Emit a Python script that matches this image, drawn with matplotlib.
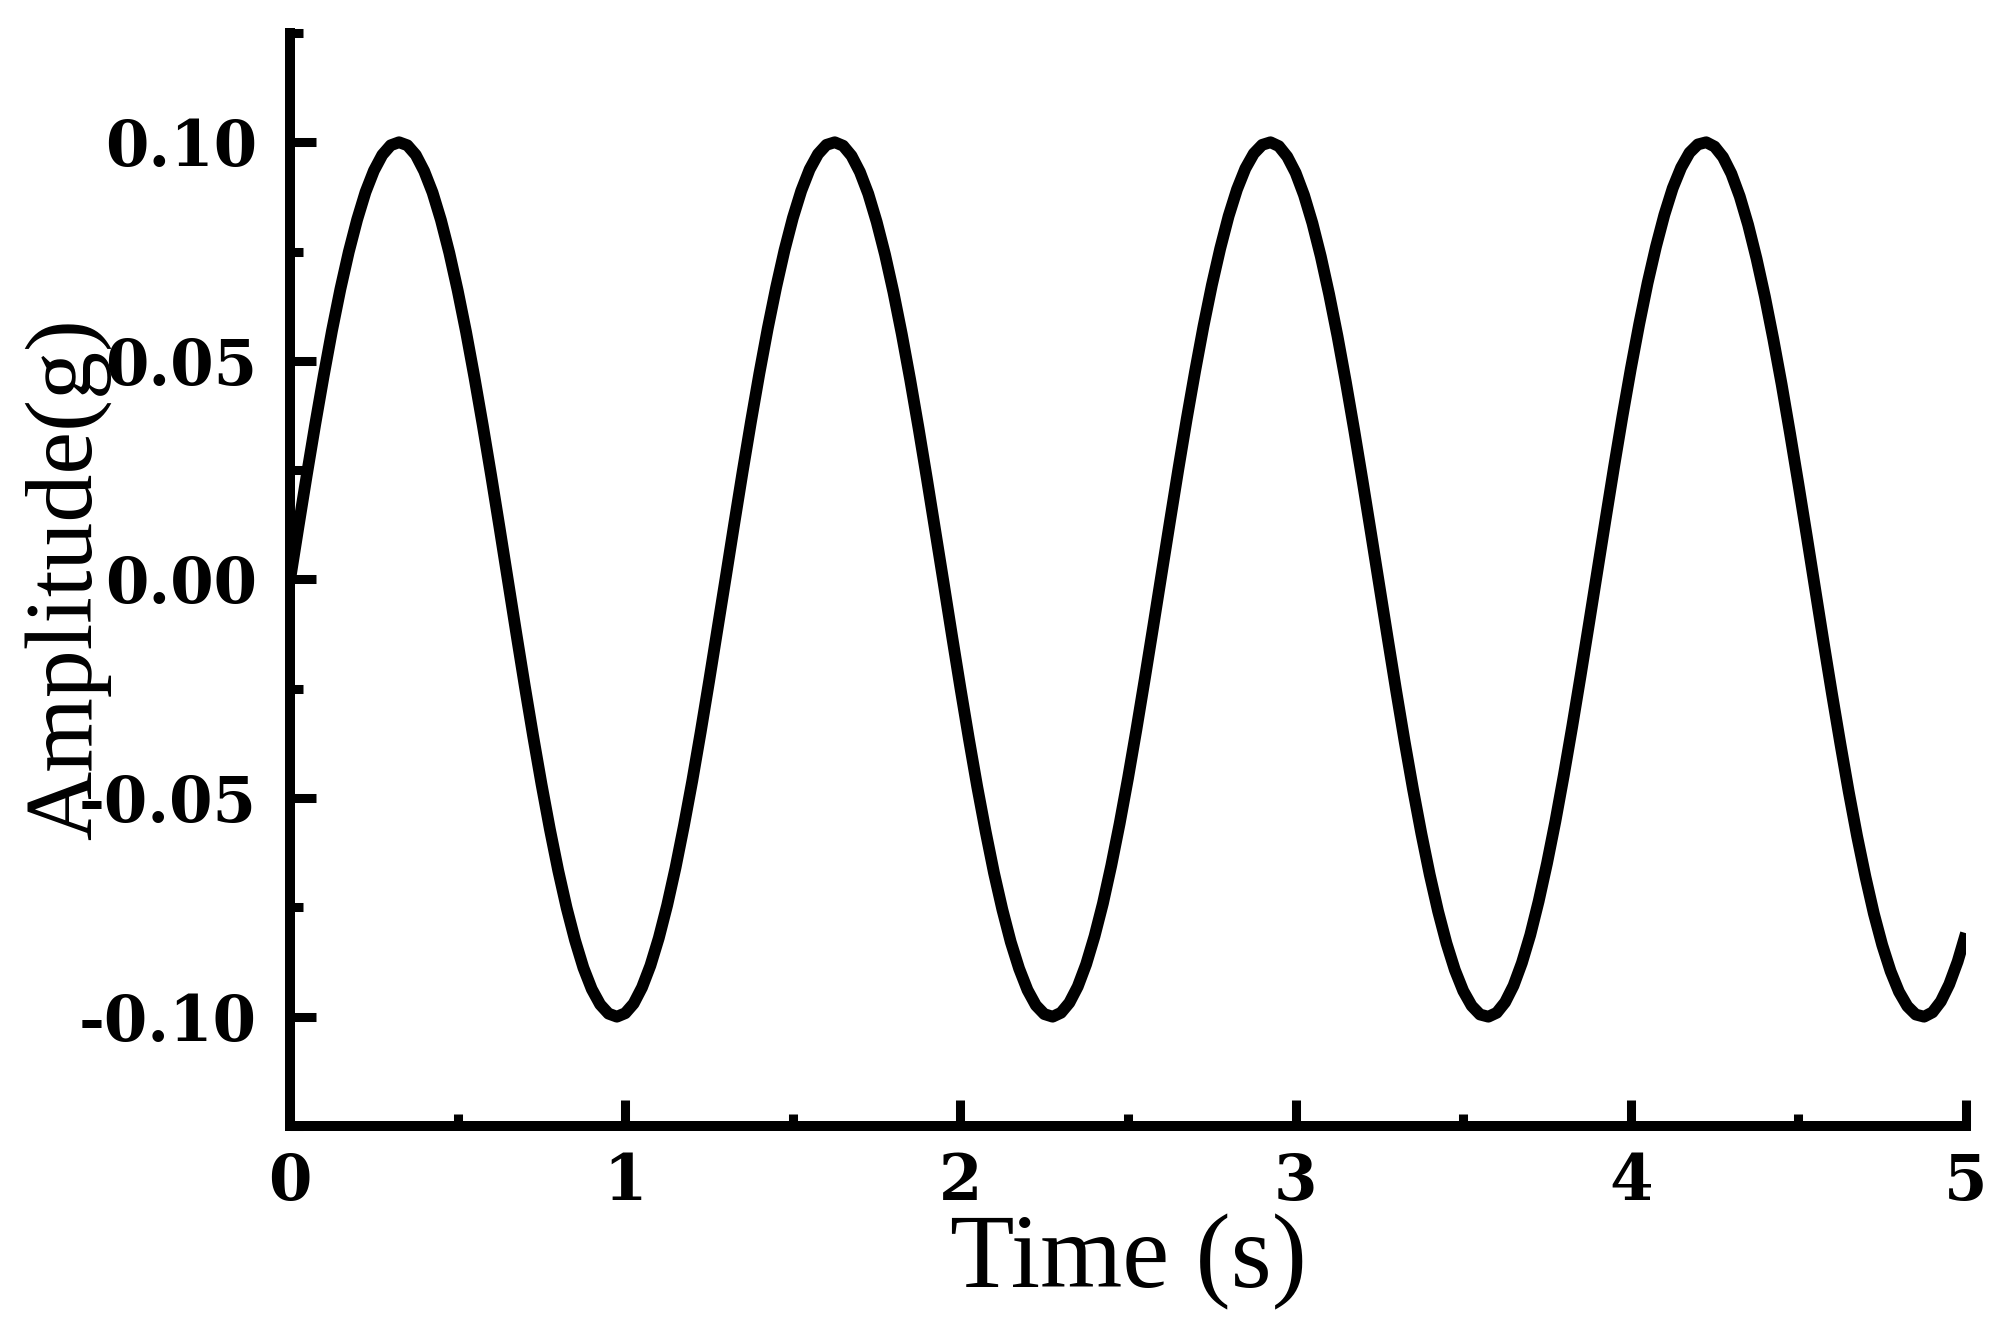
import matplotlib
matplotlib.use('Agg')
import matplotlib.pyplot as plt
from matplotlib.ticker import MultipleLocator

# sampled time axis (s), one reading every 0.025 s
time_s = [
    0.000, 0.025, 0.050, 0.075, 0.100, 0.125, 0.150, 0.175, 0.200, 0.225,
    0.250, 0.275, 0.300, 0.325, 0.350, 0.375, 0.400, 0.425, 0.450, 0.475,
    0.500, 0.525, 0.550, 0.575, 0.600, 0.625, 0.650, 0.675, 0.700, 0.725,
    0.750, 0.775, 0.800, 0.825, 0.850, 0.875, 0.900, 0.925, 0.950, 0.975,
    1.000, 1.025, 1.050, 1.075, 1.100, 1.125, 1.150, 1.175, 1.200, 1.225,
    1.250, 1.275, 1.300, 1.325, 1.350, 1.375, 1.400, 1.425, 1.450, 1.475,
    1.500, 1.525, 1.550, 1.575, 1.600, 1.625, 1.650, 1.675, 1.700, 1.725,
    1.750, 1.775, 1.800, 1.825, 1.850, 1.875, 1.900, 1.925, 1.950, 1.975,
    2.000, 2.025, 2.050, 2.075, 2.100, 2.125, 2.150, 2.175, 2.200, 2.225,
    2.250, 2.275, 2.300, 2.325, 2.350, 2.375, 2.400, 2.425, 2.450, 2.475,
    2.500, 2.525, 2.550, 2.575, 2.600, 2.625, 2.650, 2.675, 2.700, 2.725,
    2.750, 2.775, 2.800, 2.825, 2.850, 2.875, 2.900, 2.925, 2.950, 2.975,
    3.000, 3.025, 3.050, 3.075, 3.100, 3.125, 3.150, 3.175, 3.200, 3.225,
    3.250, 3.275, 3.300, 3.325, 3.350, 3.375, 3.400, 3.425, 3.450, 3.475,
    3.500, 3.525, 3.550, 3.575, 3.600, 3.625, 3.650, 3.675, 3.700, 3.725,
    3.750, 3.775, 3.800, 3.825, 3.850, 3.875, 3.900, 3.925, 3.950, 3.975,
    4.000, 4.025, 4.050, 4.075, 4.100, 4.125, 4.150, 4.175, 4.200, 4.225,
    4.250, 4.275, 4.300, 4.325, 4.350, 4.375, 4.400, 4.425, 4.450, 4.475,
    4.500, 4.525, 4.550, 4.575, 4.600, 4.625, 4.650, 4.675, 4.700, 4.725,
    4.750, 4.775, 4.800, 4.825, 4.850, 4.875, 4.900, 4.925, 4.950, 4.975,
    5.000,
]

# amplitude (g) at the same times
amplitude_g = [
    0.0000, 0.0121, 0.0240, 0.0355, 0.0465, 0.0569, 0.0664, 0.0749, 0.0823, 0.0886,
    0.0935, 0.0971, 0.0993, 0.1000, 0.0993, 0.0971, 0.0934, 0.0885, 0.0822, 0.0747,
    0.0661, 0.0566, 0.0462, 0.0352, 0.0237, 0.0118, -0.0003, -0.0124, -0.0243, -0.0358,
    -0.0468, -0.0571, -0.0666, -0.0751, -0.0825, -0.0888, -0.0937, -0.0972, -0.0993, -0.1000,
    -0.0992, -0.0970, -0.0933, -0.0883, -0.0820, -0.0745, -0.0659, -0.0563, -0.0460, -0.0349,
    -0.0233, -0.0114, 0.0006, 0.0127, 0.0246, 0.0361, 0.0471, 0.0574, 0.0668, 0.0753,
    0.0827, 0.0889, 0.0938, 0.0973, 0.0994, 0.1000, 0.0992, 0.0969, 0.0932, 0.0882,
    0.0818, 0.0743, 0.0657, 0.0561, 0.0457, 0.0346, 0.0230, 0.0111, -0.0009, -0.0130,
    -0.0249, -0.0364, -0.0474, -0.0576, -0.0671, -0.0755, -0.0829, -0.0890, -0.0939, -0.0974,
    -0.0994, -0.1000, -0.0991, -0.0968, -0.0931, -0.0880, -0.0816, -0.0741, -0.0654, -0.0558,
    -0.0454, -0.0343, -0.0227, -0.0108, 0.0013, 0.0133, 0.0252, 0.0367, 0.0476, 0.0579,
    0.0673, 0.0757, 0.0831, 0.0892, 0.0940, 0.0974, 0.0994, 0.1000, 0.0991, 0.0967,
    0.0930, 0.0879, 0.0815, 0.0739, 0.0652, 0.0556, 0.0451, 0.0340, 0.0224, 0.0105,
    -0.0016, -0.0136, -0.0255, -0.0370, -0.0479, -0.0581, -0.0675, -0.0759, -0.0832, -0.0893,
    -0.0941, -0.0975, -0.0995, -0.1000, -0.0991, -0.0967, -0.0929, -0.0877, -0.0813, -0.0736,
    -0.0649, -0.0553, -0.0448, -0.0337, -0.0221, -0.0102, 0.0019, 0.0139, 0.0258, 0.0373,
    0.0482, 0.0584, 0.0678, 0.0761, 0.0834, 0.0895, 0.0942, 0.0976, 0.0995, 0.1000,
    0.0990, 0.0966, 0.0928, 0.0876, 0.0811, 0.0734, 0.0647, 0.0550, 0.0446, 0.0334,
    0.0218, 0.0099, -0.0022, -0.0143, -0.0261, -0.0375, -0.0485, -0.0587, -0.0680, -0.0764,
    -0.0836, -0.0896, -0.0943, -0.0976, -0.0995, -0.1000, -0.0990, -0.0965, -0.0926, -0.0874,
    -0.0809,
]

x_ticks = [0, 1, 2, 3, 4, 5]
x_tick_labels = ['0', '1', '2', '3', '4', '5']
y_ticks = [-0.10, -0.05, 0.00, 0.05, 0.10]
y_tick_labels = ['-0.10', '-0.05', '0.00', '0.05', '0.10']

plt.rcParams['font.family'] = ['Liberation Serif', 'DejaVu Serif']

fig = plt.figure(figsize=(20.09, 13.23), dpi=100)
ax = fig.add_axes([0.1444, 0.1489, 0.8342, 0.8262])

ax.plot(time_s, amplitude_g, color='black', linewidth=8.5,
        solid_joinstyle='round', solid_capstyle='butt')

ax.set_xlim(0, 5)
ax.set_ylim(-0.125, 0.125)

tick_font = dict(fontfamily='DejaVu Serif', fontweight='bold', fontsize=45)
ax.set_xticks(x_ticks, labels=x_tick_labels, **tick_font)
ax.set_yticks(y_ticks, labels=y_tick_labels, **tick_font)
ax.xaxis.set_minor_locator(MultipleLocator(0.5))
ax.yaxis.set_minor_locator(MultipleLocator(0.025))

ax.tick_params(which='both', direction='in', width=6.5, color='black')
ax.tick_params(which='major', length=19)
ax.tick_params(which='minor', length=9)
ax.tick_params(axis='x', which='major', pad=19)
ax.tick_params(axis='y', which='major', pad=24)

for side in ['top', 'right']:
    ax.spines[side].set_visible(False)
for side in ['left', 'bottom']:
    ax.spines[side].set_linewidth(7.2)

ax.set_xlabel('Time (s)', fontsize=76)
ax.set_ylabel('Amplitude(g)', fontsize=69)
ax.xaxis.set_label_coords(0.5, -0.080)
ax.yaxis.set_label_coords(-0.107, 0.5)

fig.savefig('out.png', dpi=100, facecolor='white')
